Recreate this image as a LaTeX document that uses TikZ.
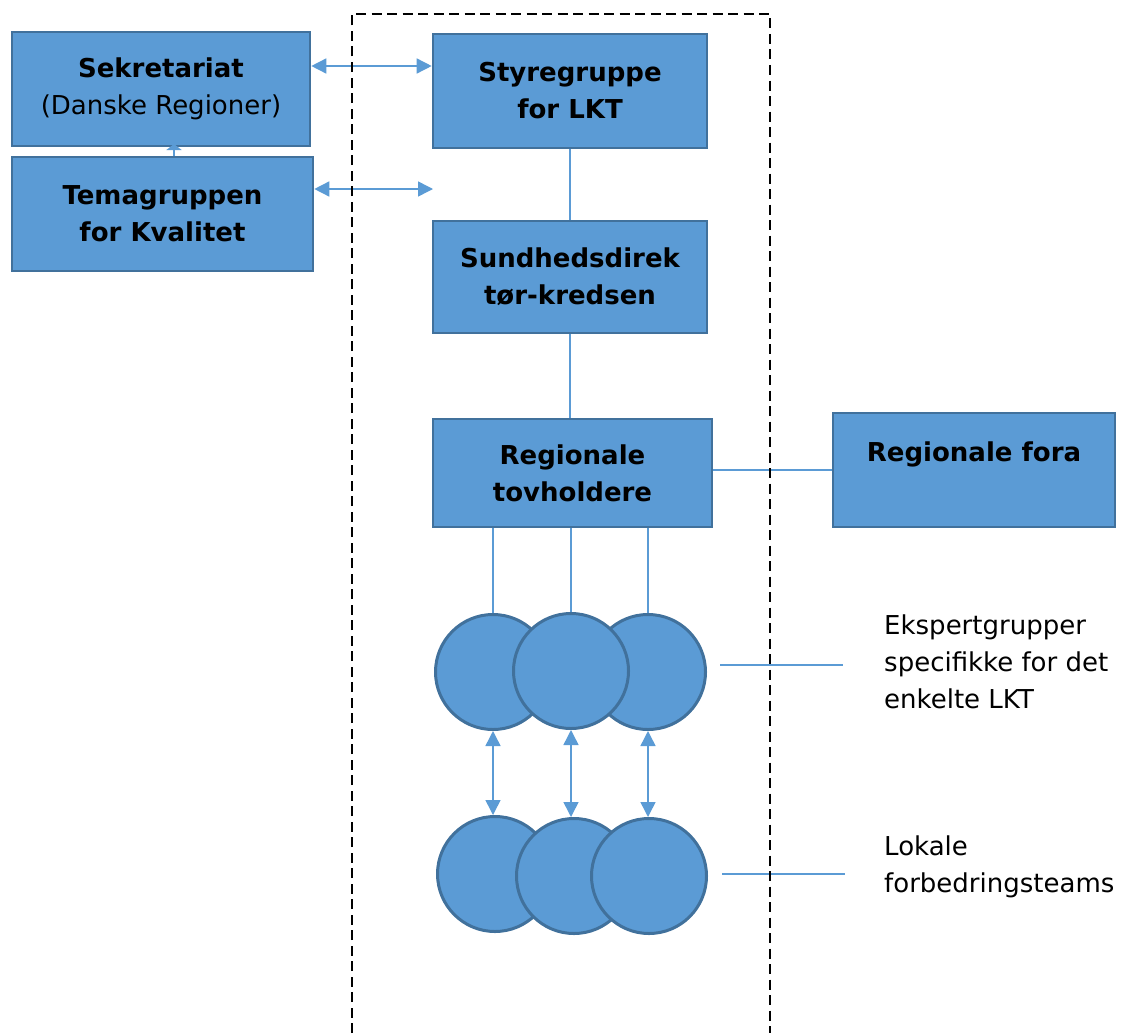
\documentclass[tikz,border=0pt]{standalone}
\usepackage{fontspec}
\setmainfont{DejaVu Sans}
\usetikzlibrary{arrows.meta}
\definecolor{lktblue}{HTML}{5B9BD5}
\definecolor{lktedge}{HTML}{41719C}

\begin{document}
\begin{tikzpicture}[x=1pt,y=-1pt,
  unit/.style={draw=lktedge,fill=lktblue,line width=2.6pt,inner sep=0pt,align=center,
    font=\fontsize{26}{37}\selectfont\bfseries},
  team/.style={circle,draw=lktedge,fill=lktblue,line width=3pt,minimum size=115pt,inner sep=0pt},
  note/.style={inner sep=0pt,align=left,anchor=base west,font=\fontsize{26}{37}\selectfont},
  link/.style={draw=lktblue,line width=1.5pt},
  both/.style={link,{Triangle[length=15pt,width=15pt]}-{Triangle[length=15pt,width=15pt]}},
  frame/.style={black,line width=2.8pt,dash pattern=on 10pt off 5.5pt}]

\useasboundingbox (0,0) rectangle (1121,1033);

% boxes, placed at their centres
\node[unit,minimum width=298pt,minimum height=114pt] (sekr) at (161,89) {Sekretariat\\{\mdseries (Danske Regioner)}};
\node[unit,minimum width=301pt,minimum height=114pt] (tema) at (162.5,214) {Temagruppen\\for Kvalitet};
\node[unit,minimum width=274pt,minimum height=114pt] (styr) at (570,91) {Styregruppe\\for LKT};
\node[unit,minimum width=274pt,minimum height=112pt] (sund) at (570,277) {Sundhedsdirek\\tør-kredsen};
\node[unit,minimum width=279pt,minimum height=108pt] (tov) at (572.5,473) {Regionale\\tovholdere};
\node[unit,minimum width=282pt,minimum height=114pt] (fora) at (974,470) {Regionale fora\\\mbox{}};

% circles, drawn back to front
\foreach \n/\x/\y in {t1/493/672, t3/648/672, t2/571/671, b1/495/874, b2/574/876, b3/649/876}{%
    \node[team] (\n) at (\x,\y) {};}

% texts on the right (anchored at their last line)
\node[note] (eksp) at (884,708) {Ekspertgrupper\\specifikke for det\\enkelte LKT};
\node[note] (lok) at (884,892) {Lokale\\forbedringsteams};

\coordinate (gap) at (433,189);
\coordinate (up) at (174,144);
\coordinate (eL) at (720,665);
\coordinate (eR) at (843,665);
\coordinate (lL) at (722,874);
\coordinate (lR) at (845,874);

% connectors
\draw[both] (sekr.east |- 0,66) -- (styr.west |- 0,66);
\draw[both] (tema.east |- gap) -- (gap);
\draw[link,-{Triangle[length=6pt,width=15pt]}] (tema.north -| up) -- (up);
\draw[link] (styr.south) -- (sund.north);
\draw[link] (sund.south) -- (sund.south |- tov.north);
\draw[link] (tov.east |- fora.west) -- (fora.west);

\foreach \c in {t1,t2,t3}{% one line per expert group
    \draw[link] (\c.north |- tov.south) -- (\c.north);}
\foreach \c/\d in {t1/b1,t2/b2,t3/b3}{%
    \draw[both] (\c.south) -- (\c.south |- \d.north);}

\draw[link] (eL) -- (eR);
\draw[link] (lL) -- (lR);

% dashed frame
\draw[frame] (352,1033) -- (352,14) -- (770,14) -- (770,1033);

\end{tikzpicture}
\end{document}
